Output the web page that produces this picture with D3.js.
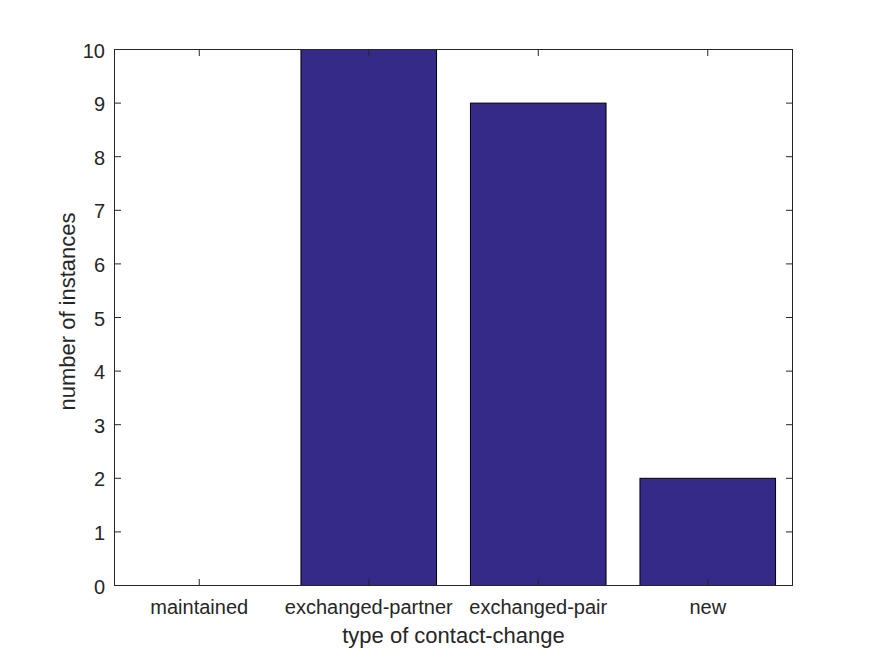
<!DOCTYPE html>
<html><head><meta charset="utf-8">
<script src="https://cdn.jsdelivr.net/npm/d3@7"></script>
<style>body{margin:0;background:#fff}svg{display:block}</style>
</head><body>
<script>
const categories = ["maintained","exchanged-partner","exchanged-pair","new"];
const counts = [0,10,9,2];
const yTicks = [0,1,2,3,4,5,6,7,8,9,10];

const W=875,H=656;
const m={left:114.5,right:875-792.5,top:49.5,bottom:656-585.5};
const svg=d3.select("body").append("svg").attr("width",W).attr("height",H);
const x=d3.scaleLinear().domain([0.5,4.5]).range([m.left,W-m.right]);
const y=d3.scaleLinear().domain([0,10]).range([H-m.bottom,m.top]);
const font="'Liberation Sans', Arial, Helvetica, sans-serif";
const axc="#262626";

const bw=(x(1.4)-x(0.6));
svg.append("g").selectAll("rect").data(counts).enter().append("rect")
 .attr("x",(d,i)=>x(i+1)-bw/2).attr("width",bw)
 .attr("y",d=>y(d)).attr("height",d=>y(0)-y(d))
 .attr("fill","#352a87").attr("stroke","#000").attr("stroke-width",1)
 .attr("display",d=>d>0?null:"none");

const tl=6.5;
svg.append("rect").attr("x",m.left).attr("y",m.top).attr("width",W-m.right-m.left).attr("height",H-m.bottom-m.top)
 .attr("fill","none").attr("stroke",axc).attr("stroke-width",1);
const g=svg.append("g").attr("stroke",axc).attr("stroke-width",1);
yTicks.forEach(t=>{
  g.append("line").attr("x1",m.left).attr("x2",m.left+tl).attr("y1",y(t)).attr("y2",y(t));
  g.append("line").attr("x1",W-m.right).attr("x2",W-m.right-tl).attr("y1",y(t)).attr("y2",y(t));
});
categories.forEach((c,i)=>{
  g.append("line").attr("x1",x(i+1)).attr("x2",x(i+1)).attr("y1",H-m.bottom).attr("y2",H-m.bottom-tl);
  g.append("line").attr("x1",x(i+1)).attr("x2",x(i+1)).attr("y1",m.top).attr("y2",m.top+tl);
});
svg.append("g").selectAll("text").data(yTicks).enter().append("text")
 .attr("x",m.left-9.5).attr("y",d=>y(d)+1).attr("dy","0.35em").attr("text-anchor","end")
 .attr("font-family",font).attr("font-size",20).attr("fill",axc).text(d=>d);
svg.append("g").selectAll("text").data(categories).enter().append("text")
 .attr("x",(d,i)=>x(i+1)).attr("y",614).attr("text-anchor","middle")
 .attr("font-family",font).attr("font-size",20).attr("fill",axc).text(d=>d);
svg.append("text").attr("x",(m.left+W-m.right)/2).attr("y",643).attr("text-anchor","middle")
 .attr("font-family",font).attr("font-size",22).attr("fill",axc).text("type of contact-change");
svg.append("text").attr("transform",`translate(75,311.5) rotate(-90)`).attr("text-anchor","middle")
 .attr("font-family",font).attr("font-size",22).attr("fill",axc).text("number of instances");
</script>
</body></html>
